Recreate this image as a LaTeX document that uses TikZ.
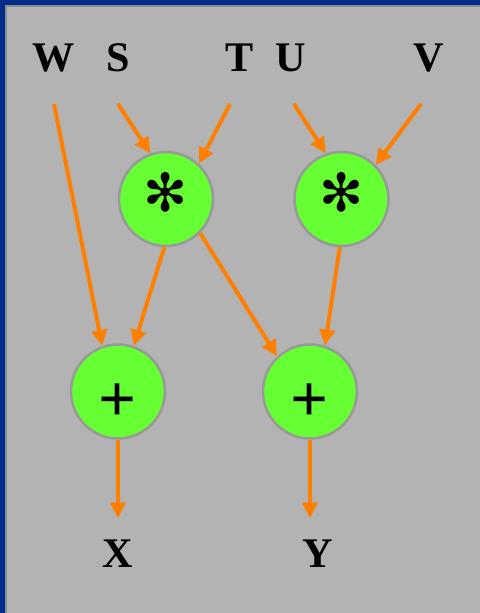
\documentclass[tikz,border=0pt]{standalone}
\usepackage{fontspec}
\setmainfont{Liberation Serif}
\newfontfamily\symfont{DejaVu Sans}
\usetikzlibrary{arrows.meta}
\definecolor{panel}{HTML}{B3B3B3}
\definecolor{frameblue}{HTML}{002D8C}
\definecolor{frameline}{HTML}{8C8C8C}
\definecolor{opgreen}{HTML}{66FF33}
\definecolor{ringgray}{HTML}{999999}
\definecolor{wire}{HTML}{FF8000}
\begin{document}
\begin{tikzpicture}[x=0.02cm,y=-0.02cm,
  varlabel/.style={inner sep=0pt,font=\fontsize{24}{28}\selectfont\bfseries},
  opnode/.style={circle,fill=opgreen,draw=ringgray,line width=0.05cm,
    minimum size=1.88cm,inner sep=0pt},
  mulop/.style={opnode,font=\symfont\fontsize{30}{32}\selectfont},
  addop/.style={opnode,font=\fontsize{38}{40}\selectfont\bfseries},
  flow/.style={draw=wire,line width=0.08cm,
    -{Triangle[length=0.32cm,width=0.3cm]}}]
% frame and panel
\fill[frameblue] (0,0) rectangle (480,613);
\fill[frameline] (5,5) rectangle (480,613);
\fill[panel] (7,7) rectangle (480,613);
\useasboundingbox (0,0) rectangle (480,613);

% input and output names
\node[varlabel] (W) at (54,58) {W};
\node[varlabel] (S) at (118,58) {S};
\node[varlabel] (T) at (240,58) {T};
\node[varlabel] (U) at (291,58) {U};
\node[varlabel] (V) at (429,58) {V};
\node[varlabel] (X) at (117.5,553.5) {X};
\node[varlabel] (Y) at (318,553.5) {Y};

% operators (glyphs nudged inside their circles, box size kept)
\node[mulop] (M1) at (166,199) {\raisebox{0.14cm}[\height][\depth]{\char"273B}};
\node[mulop] (M2) at (341.5,199) {\raisebox{0.14cm}[\height][\depth]{\char"273B}};
\node[addop] (A1) at (118,391.5) {\raisebox{-0.22cm}[\height][\depth]{+}};
\node[addop] (A2) at (310,391.5) {\raisebox{-0.22cm}[\height][\depth]{+}};

% connections
\draw[flow] ([yshift=-0.92cm]W.center) -- (A1.109);
\draw[flow] ([yshift=-0.92cm]S.center) -- (M1.109);
\draw[flow] ([xshift=-0.2cm,yshift=-0.92cm]T.center) -- (M1.47);
\draw[flow] ([xshift=0.06cm,yshift=-0.92cm]U.center) -- (M2.109);
\draw[flow] ([xshift=-0.16cm,yshift=-0.92cm]V.center) -- (M2.45);
\draw[flow] (M1.268) -- (A1.71);
\draw[flow] (M1.-45) -- (A2.133);
\draw[flow] (M2.268) -- (A2.72);
\draw[flow,shorten >=0.42cm] (A1.south) -- (A1.south |- X.north);
\draw[flow,shorten >=0.42cm] (A2.south) -- (A2.south |- Y.north);
\end{tikzpicture}
\end{document}
